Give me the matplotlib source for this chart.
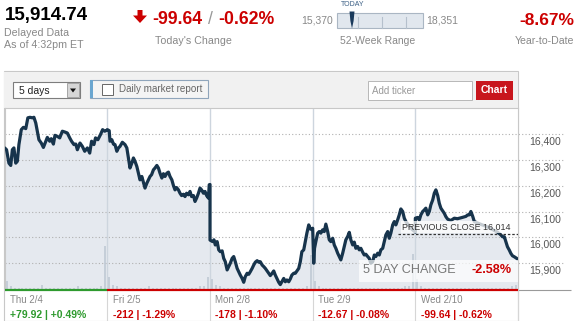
import numpy as np
import matplotlib
matplotlib.use("Agg")
import matplotlib.pyplot as plt
from matplotlib.patches import Rectangle, Polygon

plt.rcParams['font.family'] = ['Liberation Sans', 'DejaVu Sans']

# ---- data (Dow Jones, 5 days, minutes after open) ----
days = ["Thu 2/4", "Fri 2/5", "Mon 2/8", "Tue 2/9", "Wed 2/10"]
day_change = [79.92, -212, -178, -12.67, -99.64]
day_pct = [0.49, -1.29, -1.10, -0.08, -0.62]

thu_min = [0, 7, 16, 23, 29, 35, 42, 48, 54, 63, 71, 80, 88, 96, 105, 111, 118, 124, 130, 139,
           147, 156, 162, 171, 177, 185, 191, 200, 209, 219, 228, 238, 247, 254, 263, 270, 276, 286, 295, 304,
           314, 323, 330, 339, 345, 354, 364, 372, 380, 390]
thu_val = [16347, 16340, 16288, 16279, 16340, 16347, 16288, 16295, 16360, 16418, 16427, 16422, 16464, 16466, 16464, 16466, 16444, 16412, 16379, 16366,
           16349, 16373, 16388, 16373, 16383, 16362, 16396, 16392, 16386, 16412, 16409, 16405, 16386, 16373, 16360, 16362, 16340, 16366, 16353, 16334,
           16347, 16327, 16373, 16360, 16386, 16379, 16399, 16418, 16412, 16417]

fri_min = [0, 7, 10, 17, 23, 29, 36, 42, 48, 57, 67, 74, 80, 86, 93, 99, 105, 112, 118, 124,
           131, 137, 143, 150, 156, 162, 168, 175, 181, 188, 194, 200, 207, 213, 219, 226, 232, 238, 245, 251,
           257, 263, 270, 276, 282, 289, 295, 301, 308, 314, 320, 327, 333, 339, 346, 352, 358, 365, 371, 377,
           384, 387, 390]
fri_val = [16418, 16414, 16373, 16379, 16362, 16360, 16334, 16347, 16353, 16369, 16360, 16347, 16308, 16269, 16288, 16308, 16295, 16275, 16249, 16223,
           16236, 16214, 16191, 16210, 16223, 16236, 16243, 16262, 16269, 16279, 16269, 16249, 16230, 16247, 16236, 16249, 16253, 16236, 16223, 16201,
           16184, 16193, 16184, 16171, 16162, 16167, 16158, 16171, 16165, 16178, 16158, 16162, 16139, 16152, 16171, 16191, 16184, 16171, 16178, 16162,
           16152, 16204, 16205]

mon_min = [0, 10, 15, 20, 27, 33, 39, 46, 52, 58, 65, 71, 77, 84, 90, 96, 103, 109, 115, 122,
           128, 134, 141, 147, 153, 160, 166, 172, 179, 185, 191, 198, 204, 210, 217, 223, 229, 236, 242, 248,
           255, 261, 267, 273, 280, 286, 292, 299, 305, 311, 318, 324, 330, 337, 343, 349, 356, 362, 368, 375,
           381, 387, 390]
mon_val = [15989, 15983, 15990, 15970, 15983, 15951, 15944, 15947, 15918, 15905, 15873, 15886, 15899, 15918, 15925, 15905, 15879, 15866, 15853, 15840,
           15825, 15847, 15860, 15856, 15866, 15879, 15892, 15903, 15909, 15903, 15905, 15892, 15886, 15879, 15869, 15860, 15851, 15860, 15869, 15853,
           15838, 15825, 15816, 15827, 15840, 15827, 15834, 15827, 15838, 15853, 15860, 15860, 15869, 15879, 15905, 15944, 15951, 15983, 16016, 16048,
           16032, 16030, 16035]

tue_min = [0, 4, 7, 12, 19, 25, 31, 38, 44, 50, 57, 63, 69, 76, 82, 88, 95, 101, 107, 114,
           120, 126, 133, 139, 145, 152, 158, 164, 171, 177, 183, 190, 196, 202, 209, 215, 221, 228, 234, 240,
           247, 253, 259, 266, 272, 278, 285, 291, 297, 304, 310, 316, 323, 329, 335, 342, 348, 354, 366, 378, 390]
tue_val = [16035, 15899, 15957, 15983, 16016, 16022, 16016, 16029, 16022, 16051, 16022, 15990, 15983, 15996, 15970, 15957, 15938, 15925, 15912, 15938,
           15964, 15990, 16003, 16019, 15990, 15970, 15981, 15957, 15964, 15951, 15957, 15942, 15931, 15934, 15925, 15918, 15899, 15905, 15931, 15925,
           15938, 15931, 15951, 15957, 15983, 16009, 16022, 15996, 16016, 16048, 16061, 16048, 16068, 16087, 16110, 16100, 16074, 16061, 16045, 16030, 16020]

wed_min = [0, 9, 15, 21, 28, 34, 40, 47, 53, 59, 66, 72, 78, 85, 91, 97, 104, 110, 116,
           123, 135, 148, 160, 175, 192, 199, 205, 211, 218, 224, 237, 249, 262, 274, 293, 312,
           325, 331, 338, 344, 350, 357, 363, 369, 376, 385, 388]
wed_val = [16074, 16077, 16067, 16087, 16100, 16106, 16113, 16087, 16100, 16126, 16145, 16171, 16184, 16162, 16132, 16113, 16102, 16093, 16080,
           16070, 16065, 16074, 16072, 16076, 16081, 16087, 16087, 16100, 16081, 16061, 16055, 16050, 16045, 16040, 16030, 16020,
           16009, 16002, 16002, 15983, 15963, 15950, 15937, 15928, 15924, 15918, 15915]

# volume, 15-minute bins, arbitrary units
thu_vol = [5, 2, 1, 1, 1, 1, 1, 1, 1, 3, 1, 1, 1, 1, 1, 1, 1, 1, 2, 1, 1, 1, 1, 1, 2, 24]
fri_vol = [7, 3, 2, 1, 1, 1, 1, 1, 1, 1, 2, 1, 1, 1, 1, 1, 1, 1, 1, 1, 1, 1, 1, 2, 2, 7]
mon_vol = [6, 3, 2, 1, 1, 1, 1, 1, 1, 1, 1, 1, 1, 1, 1, 1, 1, 1, 1, 1, 1, 1, 1, 1, 2, 19]
tue_vol = [5, 2, 1, 1, 1, 1, 1, 1, 1, 1, 1, 1, 1, 1, 1, 1, 1, 1, 1, 1, 1, 1, 1, 2, 2, 20]
wed_vol = [6, 2, 1, 1, 1, 1, 1, 1, 1, 1, 1, 1, 1, 1, 1, 1, 1, 1, 1, 1, 1, 1, 1, 1, 2, 3]

y_ticks = [15900, 16000, 16100, 16200, 16300, 16400]
prev_close = 16014
five_day = -2.58

RED = '#cc0000'
GREEN = '#2e9a2e'
GRAY = '#888888'

mins = [thu_min, fri_min, mon_min, tue_min, wed_min]
vals = [thu_val, fri_val, mon_val, tue_val, wed_val]
vols = [thu_vol, fri_vol, mon_vol, tue_vol, wed_vol]
x = np.concatenate([d + np.array(m) / 390.0 for d, m in enumerate(mins)])
v = np.concatenate([np.array(vv, float) for vv in vals])
vx = np.concatenate([d + (np.arange(len(vo)) + 0.5) / len(vo) for d, vo in enumerate(vols)])
vh = np.concatenate([np.array(vo, float) for vo in vols])

fig = plt.figure(figsize=(5.75, 3.21), dpi=100)

# page furniture in pixel coordinates
ui = fig.add_axes([0, 0, 1, 1], zorder=0)
ui.set_xlim(0, 575)
ui.set_ylim(321, 0)
ui.axis('off')

ui.text(5, 15.5, "15,914.74", fontsize=13.5, fontweight='bold', va='center', color='black')
ui.text(4, 33.5, "Delayed Data", fontsize=7.7, va='center', color=GRAY)
ui.text(4, 45.5, "As of 4:32pm ET", fontsize=7.7, va='center', color=GRAY)

ui.add_patch(Polygon([(137.5, 10), (142.5, 10), (142.5, 15.5), (147, 15.5), (140, 23),
                      (133, 15.5), (137.5, 15.5)], closed=True, fc=RED, ec='none'))
ui.text(152.5, 19.5, "-99.64", fontsize=12.7, fontweight='bold', va='center', color=RED)
ui.text(210.5, 19.5, "/", fontsize=12.7, va='center', ha='center', color='#999999')
ui.text(218, 19.5, "-0.62%", fontsize=12.7, fontweight='bold', va='center', color=RED)
ui.text(155, 40.5, "Today's Change", fontsize=7.7, va='center', color=GRAY)

ui.text(341, 5, "TODAY", fontsize=5, va='center', color='#3b5f85')
ui.text(333, 20.5, "15,370", fontsize=7.5, va='center', ha='right', color=GRAY)
ui.add_patch(Rectangle((337, 13.3), 85.5, 15, fc='#e1e7ee', ec='#aab6c3', lw=0.8))
for dx in [358, 381.7, 406]:
    ui.plot([dx, dx], [17, 28], color='#b5c0cc', lw=0.8)
ui.add_patch(Polygon([(349.5, 11.5), (354.5, 11.5), (353.6, 21), (352, 28.5), (350.4, 21)],
                     closed=True, fc='#1a3a5c', ec='none'))
ui.text(426, 20.5, "18,351", fontsize=7.5, va='center', color=GRAY)
ui.text(340.5, 40.5, "52-Week Range", fontsize=7.5, va='center', color=GRAY)

ui.text(574, 20.5, "-8.67%", fontsize=12.5, fontweight='bold', va='center', ha='right', color=RED)
ui.text(574, 40.5, "Year-to-Date", fontsize=7.6, va='center', ha='right', color=GRAY)

# toolbar panel
ui.add_patch(Rectangle((3.5, 71), 514.5, 250, fc='white', ec='#c8c8c8', lw=0.8))
ui.add_patch(Rectangle((4, 71.5), 513.5, 36.8, fc='#f1f1f1', ec='none'))
ui.add_patch(Rectangle((13.3, 81.7), 66.7, 16.6, fc='white', ec='#7d7d7d', lw=0.8))
ui.add_patch(Rectangle((66.5, 83), 12.5, 14, fc='#d6d6d6', ec='#9a9a9a', lw=0.6))
ui.add_patch(Polygon([(70, 88.5), (76, 88.5), (73, 92.5)], closed=True, fc='#111111', ec='none'))
ui.text(19, 90.5, "5 days", fontsize=7.5, va='center', color='#222222')
ui.add_patch(Rectangle((90, 80), 118.3, 18.3, fc='#f4f4f4', ec='#8fa5bb', lw=0.8))
ui.add_patch(Rectangle((90, 80), 3, 18.3, fc='#6aa6d0', ec='none'))
ui.add_patch(Rectangle((101.7, 84), 11, 11, fc='white', ec='#666666', lw=0.7))
ui.text(119, 89.5, "Daily market report", fontsize=7.1, va='center', color='#666666')
ui.add_patch(Rectangle((367.6, 81), 104.8, 19, fc='white', ec='#b8b8b8', lw=0.7))
ui.text(372, 91, "Add ticker", fontsize=7, va='center', color='#999999')
ui.add_patch(Rectangle((476, 81), 36.5, 18.5, fc='#c8161d', ec='none'))
ui.text(494.2, 90.2, "Chart", fontsize=7.5, fontweight='bold', va='center', ha='center', color='white')

# ---- the chart ----
ax = fig.add_axes([4.7 / 575, 1 - 290 / 321, 513.3 / 575, 181.7 / 321], zorder=1)
ax.set_facecolor('white')
ax.set_xlim(0, 5)
ax.set_ylim(15795, 16501)
ax.set_xticks([])
ax.set_yticks([])
for side in ['top', 'left', 'right']:
    ax.spines[side].set_color('#c8c8c8')
    ax.spines[side].set_linewidth(0.8)
ax.spines['bottom'].set_visible(False)

ax.fill_between(x, v, 15795, color='#e5e9ef', lw=0, zorder=1)

xt = ax.get_yaxis_transform()
ax.hlines(y_ticks, 0, 1.088, transform=xt, colors='#b0b0b0', lw=0.8,
          linestyles=(0, (1, 2)), clip_on=False, zorder=1.5)
for t in y_ticks:
    ax.annotate(f"{t:,}", xy=(1.0214, t), xycoords=('axes fraction', 'data'),
                xytext=(0, -7.5), textcoords='offset pixels', ha='left', va='center',
                fontsize=7.5, color='#555555', annotation_clip=False)

for d in range(1, 5):
    ax.axvline(d, color='#cdd5de', lw=1, zorder=1.6)

bt = ax.get_xaxis_transform()
ax.vlines(vx, 0, vh / 100.0, transform=bt, colors='#bcc6d2', lw=1.1, zorder=1.7)

ax.plot(x, v, color='#17344c', lw=2.3, solid_joinstyle='round', solid_capstyle='round', zorder=3)

# previous close marker
ax.hlines(prev_close, 3.83, 5, colors='#333333', lw=0.9, linestyles=(0, (2, 1.5)), zorder=4)
ax.annotate(f"PREVIOUS CLOSE {prev_close:,}", xy=(3.869, prev_close), xytext=(0, 6.5),
            textcoords='offset pixels', fontsize=6.4, color='#333333', ha='left', va='center',
            bbox=dict(boxstyle='square,pad=0.15', fc=(1, 1, 1, 0.75), ec='none'), zorder=4)

# 5 day change box
ax.add_patch(Rectangle((0.690, 0.046), 0.31, 0.119, transform=ax.transAxes,
                       fc=(1, 1, 1, 0.7), ec='none', zorder=4))
ax.text(0.698, 0.112, "5 DAY CHANGE", transform=ax.transAxes, fontsize=9.1,
        color='#777777', va='center', ha='left', zorder=5)
ax.text(0.988, 0.112, f"{five_day:.2f}%", transform=ax.transAxes, fontsize=9.1,
        fontweight='bold', color=RED, va='center', ha='right', zorder=5)

# bottom strip: day colours, separators, labels
ax.hlines(0, 0, 1, transform=bt, colors=GREEN if day_change[0] > 0 else RED, lw=1.6, clip_on=False, zorder=5)
ax.hlines(0, 1, 5, transform=bt, colors=RED, lw=1.6, clip_on=False, zorder=5)
ax.hlines(0, 1.0, 1.103, transform=ax.transAxes, colors='#9a9a9a', lw=0.8, clip_on=False)
ax.vlines(range(1, 6), -0.175, 0, transform=bt, colors='#d6d6d6', lw=0.8, clip_on=False)
for d, name in enumerate(days):
    ax.text(d + 0.052, -0.055, name, transform=bt, fontsize=7, color='#888888',
            va='center', ha='left', clip_on=False)
    col = GREEN if day_change[d] > 0 else RED
    ax.text(d + 0.052, -0.138, f"{day_change[d]:+g} | {day_pct[d]:+.2f}%", transform=bt,
            fontsize=7.5, fontweight='bold', color=col, va='center', ha='left', clip_on=False)

fig.savefig("out.png", dpi=100)
